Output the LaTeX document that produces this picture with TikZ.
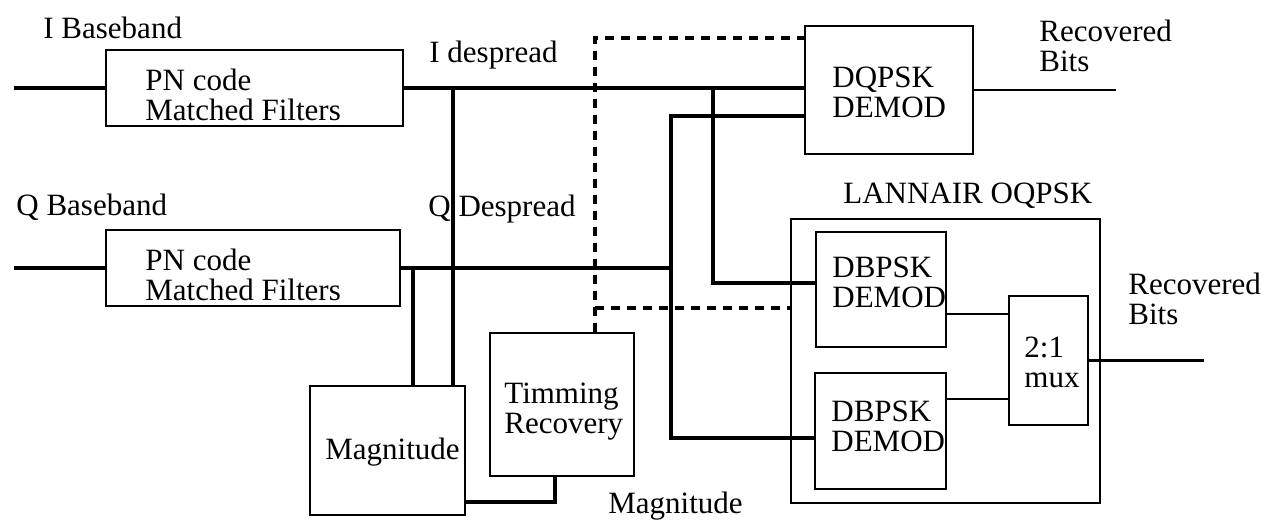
\documentclass[tikz,border=0pt]{standalone}
\usepackage{fontspec}
\setmainfont{Liberation Serif}
\usepackage{tikz}
\usetikzlibrary{positioning, calc}

\begin{document}
\begin{tikzpicture}[
    x=0.5pt, y=-0.5pt,
    blk/.style={draw, line width=1.3pt, inner sep=0pt},
    lbl/.style={anchor=west, inner sep=0pt, align=left,
                font=\fontsize{15.5}{15}\selectfont},
    wire/.style={line width=2.1pt},
    wirethin/.style={line width=1.2pt},
    tmg/.style={line width=1.6pt, dash pattern=on 4.5pt off 3.5pt},
]
    \useasboundingbox (0,0) rectangle (1276,521);

    % blocks
    \node[blk, minimum width=148.5pt, minimum height=38pt]  (pnI)    at (254.5,88)   {};
    \node[blk, minimum width=147pt,   minimum height=38pt]  (pnQ)    at (253,268)    {};
    \node[blk, minimum width=84pt,    minimum height=64pt]  (dqpsk)  at (889,90)     {};
    \node[blk, minimum width=77.5pt,  minimum height=64.5pt] (mag)   at (387.5,450.5) {};
    \node[blk, minimum width=72pt,    minimum height=71.5pt] (tim)   at (562,404.5)  {};
    \node[blk, minimum width=154.5pt, minimum height=142pt] (oqpsk)  at (945.5,361)  {};
    \node[blk, minimum width=65pt,    minimum height=57.5pt] (dbpskA) at (881,289.5) {};
    \node[blk, minimum width=65.5pt,  minimum height=58pt]  (dbpskB) at (880.5,431)  {};
    \node[blk, minimum width=39.5pt,  minimum height=64.5pt] (mux)   at (1048.5,360.5) {};

    % texts
    \node[lbl] (iband)  at (43,28)    {I Baseband};
    \node[lbl] (qband)  at (16,207)   {Q Baseband};
    \node[lbl] (pnItx)  at (145,95)   {PN code\\Matched Filters};
    \node[lbl] (pnQtx)  at (145,275)  {PN code\\Matched Filters};
    \node[lbl] (idesp)  at (429,55)   {I despread};
    \node[lbl] (qdesp)  at (428,209)  {Q Despread};
    \node[lbl] (dqtx)   at (832,92)   {DQPSK\\DEMOD};
    \node[lbl] (bitsA)  at (1039,45.5) {Recovered\\Bits};
    \node[lbl] (oqtx)   at (843,196)  {LANNAIR OQPSK};
    \node[lbl] (dbAtx)  at (832,282.5) {DBPSK\\DEMOD};
    \node[lbl] (dbBtx)  at (831,426.5) {DBPSK\\DEMOD};
    \node[lbl] (muxtx)  at (1024,362.5) {2:1\\mux};
    \node[lbl] (bitsB)  at (1128,298.5) {Recovered\\Bits};
    \node[lbl] (timtx)  at (504,411.5) {Timming\\Recovery};
    \node[lbl] (magtx)  at (325,452)  {Magnitude};
    \node[lbl] (magout) at (608,506)  {Magnitude};

    % junctions and free ends
    \coordinate (inI)  at (14,88);
    \coordinate (inQ)  at (14,268);
    \coordinate (itap) at (453,88);
    \coordinate (qtap) at (413,268);
    \coordinate (ij)   at (713,88);
    \coordinate (qj)   at (671,268);
    \coordinate (tj)   at (595,308);
    \coordinate (outA) at (1116,90);
    \coordinate (outB) at (1204,360.5);

    % signal paths
    \draw[wire] (inI) -- (pnI.west);
    \draw[wire] (inQ) -- (pnQ.west);
    \draw[wire] (pnI.east) -- (pnI.east -| dqpsk.west);
    \draw[wire] (pnQ.east) -- (qj);
    \draw[wire] ([yshift=-13pt]dqpsk.west) -| (qj) |- ([yshift=-3.5pt]dbpskB.west);
    \draw[wire] (ij) |- ([yshift=3.25pt]dbpskA.west);
    \draw[wire] (itap) -- (itap |- mag.north);
    \draw[wire] (qtap) -- (qtap |- mag.north);
    \draw[wire] ([yshift=-25.75pt]mag.east) -| ([xshift=-3.5pt]tim.south);

    % timing (dashed)
    \draw[tmg] ([xshift=16.5pt]tim.north) |- ([yshift=26pt]dqpsk.west);
    \draw[tmg] (tj) -- (tj -| oqpsk.west);

    % outputs
    \draw[wirethin] (dqpsk.east) -- (outA);
    \draw[wirethin] ([yshift=-12.25pt]dbpskA.east) -- ([yshift=-12.25pt]dbpskA.east -| mux.west);
    \draw[wirethin] ([yshift=16pt]dbpskB.east) -- ([yshift=16pt]dbpskB.east -| mux.west);
    \draw[wirethin] (mux.east) -- (outB);
\end{tikzpicture}
\end{document}
